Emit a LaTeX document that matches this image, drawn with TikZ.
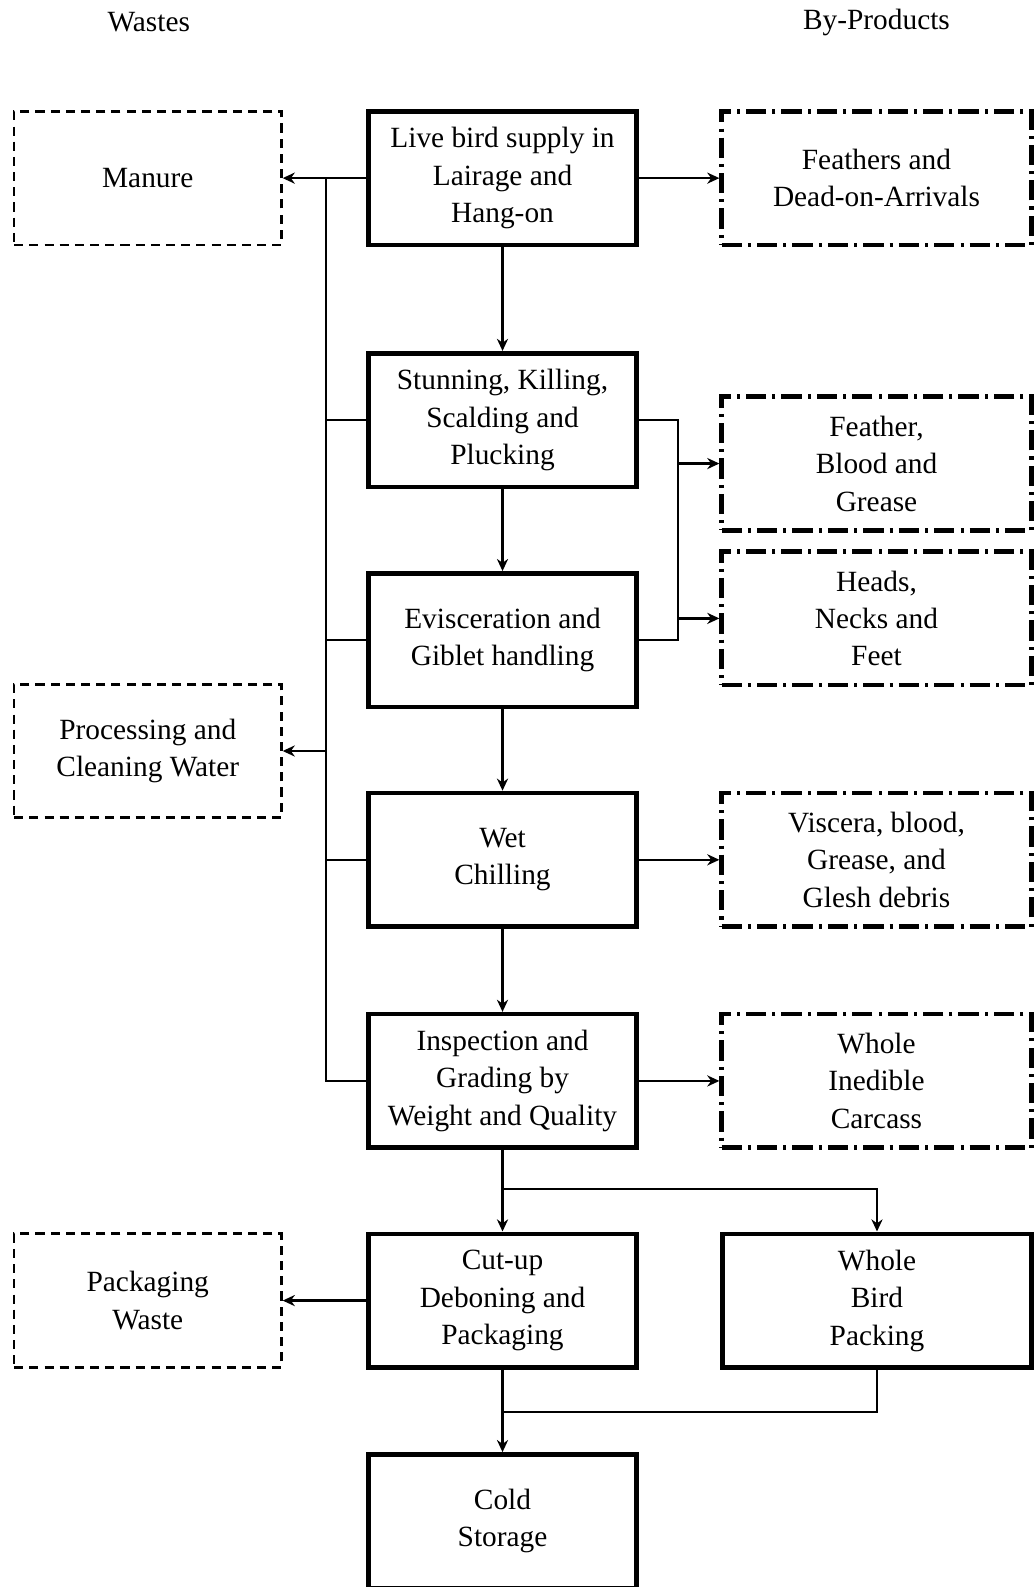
\documentclass[tikz,border=0pt]{standalone}
\usepackage{fontspec}
\setmainfont{Liberation Serif}
\usetikzlibrary{arrows.meta}
\begin{document}
\begin{tikzpicture}[x=1pt,y=-1pt,
  every node/.style={font=\fontsize{29}{37}\selectfont, align=center, inner sep=0pt},
  mainbox/.style={draw, line width=4.5pt, minimum width=265pt, minimum height=132pt},
  wastebox/.style={draw, line width=2.6pt, dash pattern=on 9pt off 6pt, minimum width=264pt, minimum height=132pt},
  prodbox/.style={draw, line width=4.5pt, dash pattern=on 20pt off 6pt on 3pt off 6pt, minimum width=306pt, minimum height=132pt},
  conn/.style={line width=2.4pt},
  arr/.style={conn, -{Stealth[length=12pt,width=11pt]}}]
\useasboundingbox (0,0) rectangle (1021,1568);
% headers
\node (hw) at (147,22) {Wastes};
\node (hb) at (866,22) {By-Products};
% main column
\node[mainbox] (n1) at (496.5,176) {Live bird supply in\\Lairage and\\Hang-on};
\node[mainbox] (n2) at (496.5,415) {Stunning, Killing,\\Scalding and\\Plucking};
\node[mainbox] (n3) at (496.5,632.5) {Evisceration and\\Giblet handling};
\node[mainbox] (n4) at (496.5,849.5) {Wet\\Chilling};
\node[mainbox] (n5) at (496.5,1068) {Inspection and\\Grading by\\Weight and Quality};
\node[mainbox] (n6) at (496.5,1285) {Cut-up\\Deboning and\\Packaging};
\node[mainbox] (n7) at (496.5,1503) {Cold\\Storage};
\node[mainbox, minimum width=305pt] (wb) at (866.5,1285) {Whole\\Bird\\Packing};
% wastes
\node[wastebox] (w1) at (146,176) {Manure};
\node[wastebox] (w2) at (146,742) {Processing and\\Cleaning Water};
\node[wastebox] (w3) at (146,1285) {Packaging\\Waste};
% by-products
\node[prodbox] (b1) at (866,176) {Feathers and\\Dead-on-Arrivals};
\node[prodbox] (b2) at (866,458) {Feather,\\Blood and\\Grease};
\node[prodbox] (b3) at (866,611) {Heads,\\Necks and\\Feet};
\node[prodbox] (b4) at (866,849.5) {Viscera, blood,\\Grease, and\\Glesh debris};
\node[prodbox] (b5) at (866,1068) {Whole\\Inedible\\Carcass};
% coordinates
\coordinate (busT) at (322,176);
\coordinate (busB) at (322,1068);
\coordinate (rb) at (670,415);
\coordinate (sp) at (496.5,1175);
\coordinate (mg) at (496.5,1395);
% left bus
\draw[arr] (n1.west) -- (w1.east);
\draw[conn] (busT) -- (busB) -- (n5.west);
\draw[conn] (n2.west) -- (n2.west -| busT);
\draw[conn] (n3.west) -- (n3.west -| busT);
\draw[conn] (n4.west) -- (n4.west -| busT);
\draw[arr] (w2.east -| busT) -- (w2.east);
% right side
\draw[arr] (n1.east) -- (b1.west);
\draw[conn] (n2.east) -- (rb) -- (n3.east -| rb) -- (n3.east);
\draw[arr] (b2.west -| rb) -- (b2.west);
\draw[arr] (b3.west -| rb) -- (b3.west);
\draw[arr] (n4.east) -- (b4.west);
\draw[arr] (n5.east) -- (b5.west);
% main flow
\draw[arr] (n1.south) -- (n2.north);
\draw[arr] (n2.south) -- (n3.north);
\draw[arr] (n3.south) -- (n4.north);
\draw[arr] (n4.south) -- (n5.north);
\draw[conn] (n5.south) -- (sp);
\draw[arr] (sp) -- (n6.north);
\draw[arr] (sp) -| (wb.north);
\draw[arr] (n6.west) -- (w3.east);
\draw[arr] (n6.south) -- (n7.north);
\draw[conn] (wb.south) |- (mg);
\end{tikzpicture}
\end{document}
